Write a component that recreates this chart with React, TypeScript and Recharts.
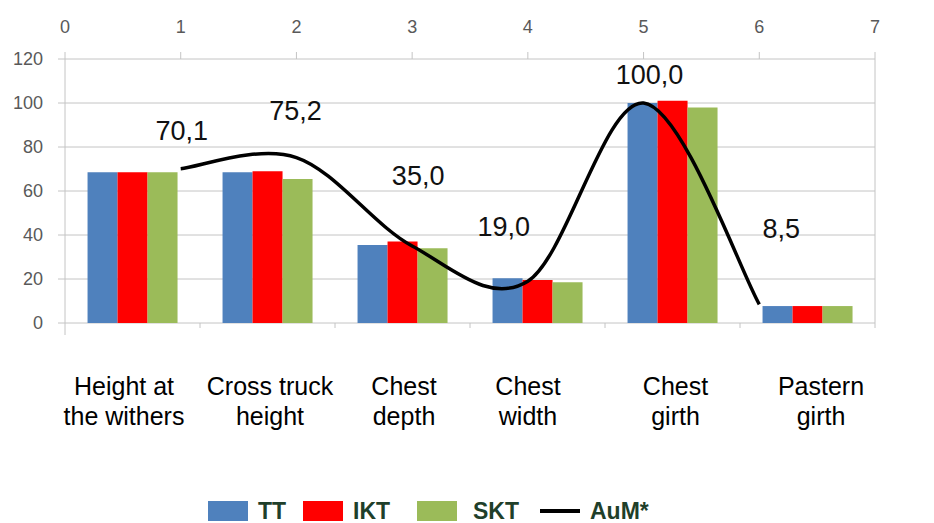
import React from 'react';
import { ComposedChart, Bar, Line, XAxis, YAxis, CartesianGrid, LabelList, Legend } from 'recharts';

// ---- data ----
const categories = [
  'Height at\nthe withers',
  'Cross truck\nheight',
  'Chest\ndepth',
  'Chest\nwidth',
  'Chest\ngirth',
  'Pastern\ngirth',
];
const ttValues = [68.5, 68.5, 35.5, 20.3, 100, 7.7];
const iktValues = [68.5, 69, 37, 19.5, 101, 7.7];
const sktValues = [68.5, 65.5, 34, 18.5, 98, 7.7];
const aumValues = [70.1, 75.2, 35.0, 19.0, 100.0, 8.5];
const aumX = [1, 2, 3, 4, 5, 6];
const topTicks = [0, 1, 2, 3, 4, 5, 6, 7];
const yTicks = [0, 20, 40, 60, 80, 100, 120];
const seriesNames = { tt: 'TT', ikt: 'IKT', skt: 'SKT', aum: 'AuM*' };

const rows = categories.map((name, i) => ({
  name,
  pos: aumX[i],
  tt: ttValues[i],
  ikt: iktValues[i],
  skt: sktValues[i],
  aum: aumValues[i],
}));

// ---- styles ----
const FONT = '"Liberation Sans", Arial, sans-serif';
const AXIS = '#c4c4c4';
const TICK_TEXT = '#595959';
const COLORS = { tt: '#4f81bd', ikt: '#ff0000', skt: '#9bbb59', aum: '#000000' };
const LEGEND_TEXT = '#1f3f2a';
// label placement offsets (dx, dy) relative to the point
const labelOffsets = [
  [1, -39],
  [-1, -48],
  [6, -71],
  [-24, -55],
  [6, -29],
  [22, -76],
];
const catLabelShift = [-8.5, 2.5, 1.5, -9.5, 3, 13.5];

const fmt = (v: number) => v.toFixed(1).replace('.', ',');

// Excel-like smoothed line (Catmull-Rom through points)
const curveExcel = (context: any) => {
  let pts: number[][] = [];
  return {
    areaStart() {},
    areaEnd() {},
    lineStart() {
      pts = [];
    },
    point(x: number, y: number) {
      pts.push([+x, +y]);
    },
    lineEnd() {
      const n = pts.length;
      if (!n) return;
      context.moveTo(pts[0][0], pts[0][1]);
      for (let i = 0; i < n - 1; i++) {
        const p0 = pts[i - 1] || pts[i];
        const p1 = pts[i];
        const p2 = pts[i + 1];
        const p3 = pts[i + 2] || pts[i + 1];
        context.bezierCurveTo(
          p1[0] + (p2[0] - p0[0]) / 6,
          p1[1] + (p2[1] - p0[1]) / 6,
          p2[0] - (p3[0] - p1[0]) / 6,
          p2[1] - (p3[1] - p1[1]) / 6,
          p2[0],
          p2[1]
        );
      }
    },
  };
};

const CategoryTick = (props: any) => {
  const { x, y, payload, index } = props;
  const lines = String(payload.value).split('\n');
  const half = payload.offset || 0;
  const dx = catLabelShift[index] || 0;
  const last = index === categories.length - 1;
  return (
    <g>
      <line x1={x - half} x2={x - half} y1={y} y2={y + (index === 0 ? 12 : 5)} stroke={AXIS} />
      {last && <line x1={x + half} x2={x + half} y1={y} y2={y + 5} stroke={AXIS} />}
      <text x={x + dx} y={y} textAnchor="middle" fontSize={25} fill="#000" fontFamily={FONT}>
        {lines.map((l, i) => (
          <tspan key={i} x={x + dx} y={y + 72 + i * 30}>
            {l}
          </tspan>
        ))}
      </text>
    </g>
  );
};

const AumLabel = (props: any) => {
  const { x, y, index, value } = props;
  const [dx, dy] = labelOffsets[index] || [0, -30];
  return (
    <text x={x + dx} y={y + dy + 10} textAnchor="middle" fontSize={27} fill="#111" fontFamily={FONT}>
      {fmt(Number(value))}
    </text>
  );
};

const LegendContent = () => {
  const textStyle: React.CSSProperties = {
    position: 'absolute',
    top: 0,
    height: 20,
    lineHeight: '20px',
    fontSize: 23,
    fontWeight: 'bold',
    color: LEGEND_TEXT,
    fontFamily: FONT,
    whiteSpace: 'nowrap',
  };
  const sw = (left: number, color: string) => (
    <div style={{ position: 'absolute', left, top: 0, width: 40, height: 20, background: color }} />
  );
  return (
    <div style={{ position: 'relative', width: 926, height: 22 }}>
      {sw(200, COLORS.tt)}
      <div style={{ ...textStyle, left: 250 }}>{seriesNames.tt}</div>
      {sw(295, COLORS.ikt)}
      <div style={{ ...textStyle, left: 345 }}>{seriesNames.ikt}</div>
      {sw(409, COLORS.skt)}
      <div style={{ ...textStyle, left: 465 }}>{seriesNames.skt}</div>
      <div style={{ position: 'absolute', left: 532, top: 8, width: 40, height: 4, background: COLORS.aum }} />
      <div style={{ ...textStyle, left: 582 }}>{seriesNames.aum}</div>
    </div>
  );
};

export default function App() {
  return (
    <div style={{ width: 926, height: 515, position: 'relative', fontFamily: FONT }}>
      <ComposedChart
        width={926}
        height={515}
        data={rows}
        margin={{ top: 0, right: 0, bottom: 0, left: 0 }}
        barCategoryGap="16.7%"
        barGap={0}
        style={{ fontFamily: FONT }}
      >
        <CartesianGrid vertical={false} stroke={AXIS} yAxisId="left" xAxisId="cat" />
        <XAxis
          xAxisId="num"
          orientation="top"
          type="number"
          dataKey="pos"
          domain={[0, 7]}
          ticks={topTicks}
          height={51}
          axisLine={false}
          tickLine={{ stroke: AXIS }}
          tickSize={7}
          tickMargin={19}
          tick={{ fill: TICK_TEXT, fontSize: 18, fontFamily: FONT }}
          allowDataOverflow
        />
        <XAxis
          xAxisId="cat"
          dataKey="name"
          type="category"
          height={200}
          axisLine={false}
          tickLine={false}
          tickSize={0}
          tickMargin={0}
          interval={0}
          tick={<CategoryTick />}
        />
        <YAxis
          yAxisId="left"
          domain={[0, 120]}
          ticks={yTicks}
          width={57}
          axisLine={{ stroke: AXIS }}
          tickLine={{ stroke: AXIS }}
          tickSize={7}
          tickMargin={15}
          tick={{ fill: TICK_TEXT, fontSize: 18, fontFamily: FONT }}
        />
        <YAxis
          yAxisId="right"
          orientation="right"
          domain={[0, 120]}
          ticks={yTicks}
          width={59}
          axisLine={{ stroke: AXIS }}
          tickLine={{ stroke: AXIS }}
          tickSize={8}
          tickMargin={12}
          tick={{ fill: TICK_TEXT, fontSize: 18, fontFamily: FONT }}
        />
        <Bar xAxisId="cat" yAxisId="left" dataKey="tt" name={seriesNames.tt} fill={COLORS.tt} isAnimationActive={false} />
        <Bar xAxisId="cat" yAxisId="left" dataKey="ikt" name={seriesNames.ikt} fill={COLORS.ikt} isAnimationActive={false} />
        <Bar xAxisId="cat" yAxisId="left" dataKey="skt" name={seriesNames.skt} fill={COLORS.skt} isAnimationActive={false} />
        <Line
          xAxisId="num"
          yAxisId="left"
          dataKey="aum"
          name={seriesNames.aum}
          type={curveExcel as any}
          stroke={COLORS.aum}
          strokeWidth={3.5}
          dot={false}
          activeDot={false}
          isAnimationActive={false}
        >
          <LabelList dataKey="aum" content={<AumLabel />} />
        </Line>
        <Legend
          verticalAlign="middle"
          align="center"
          layout="horizontal"
          wrapperStyle={{ top: 493, left: 0, width: 926, height: 22 }}
          content={<LegendContent />}
        />
      </ComposedChart>
    </div>
  );
}
